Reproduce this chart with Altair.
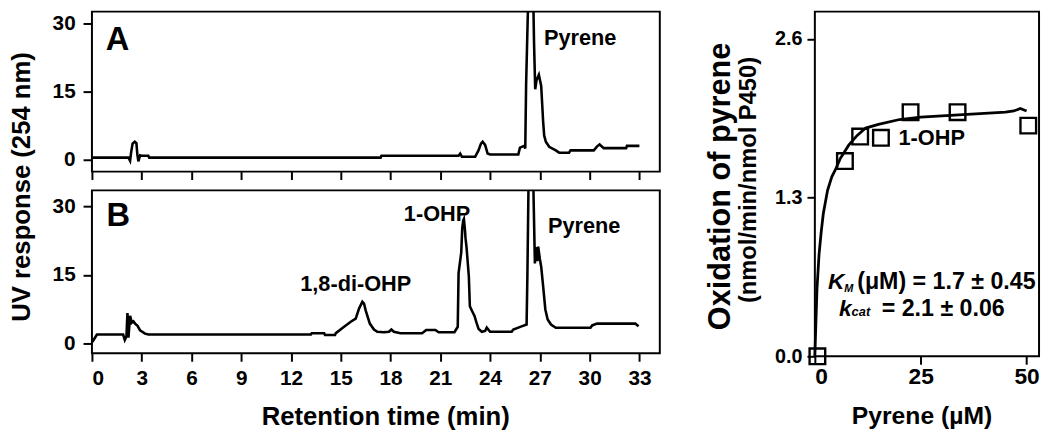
import altair as alt
import pandas as pd

FONT = "Liberation Sans"

# ---------------- data: chromatogram A (no enzyme) ----------------
time_a = [0, 2.2, 2.3, 2.36, 2.45, 2.58, 2.68, 2.74, 2.8, 2.9,
          3.0, 3.4, 3.45, 17.4, 17.45,
          22.1, 22.2, 22.3, 23.1, 23.3, 23.45, 23.55, 23.7, 23.85, 24.0,
          25.7, 25.8, 26.05, 26.12, 26.17, 26.3, 26.47, 26.6, 26.65, 26.72,
          26.8, 26.94, 27.08, 27.2, 27.26, 27.36, 27.56, 27.96, 28.16, 28.76,
          28.85, 30.25, 30.45, 30.6, 30.85, 32.2, 32.25, 33.0]
resp_a = [0.4, 0.4, -0.3, 1.5, 3.5, 3.9, 3.6, 1.0, -0.4, 0.9,
          0.8, 0.8, 0.4, 0.4, 0.8,
          0.8, 1.3, 0.6, 0.6, 2.0, 3.5, 3.9, 3.2, 1.3, 1.1,
          1.1, 2.6, 3.0, 2.4, 16.3, 36, 200, 36, 25.6, 15.5,
          17.5, 18.7, 16.2, 8.2, 5.3, 3.9, 2.8, 2.0, 1.5, 1.5,
          2.0, 2.0, 2.9, 3.3, 2.5, 2.5, 3.0, 3.0]

# ---------------- data: chromatogram B (with enzyme) ----------------
time_b = [0, 0.1, 0.3, 1.88, 1.98, 2.08, 2.14, 2.2, 2.3, 2.4,
          2.5, 2.6, 2.75, 2.9, 3.2, 3.4, 13.2, 13.25, 14.0, 14.05,
          14.65, 14.7, 15.2, 15.6, 15.9, 16.1, 16.3, 16.4, 16.5, 16.75,
          17.0, 17.2, 17.6, 17.9, 18.05, 18.2, 18.6, 19.9, 20.15, 20.7,
          20.9, 21.85, 22.05, 22.1, 22.26, 22.32, 22.38, 22.42, 22.48, 22.52,
          22.58, 22.72, 22.78, 22.92, 23.06, 23.18, 23.31, 23.5, 23.7, 23.8,
          24.0, 25.3, 25.4, 25.9, 26.2, 26.25, 26.32, 26.47, 26.6, 26.7,
          26.77, 26.85, 26.9, 27.0, 27.08, 27.2, 27.33, 27.47, 27.67, 27.96,
          30.05, 30.15, 30.45, 32.75, 32.95]
resp_b = [0.2, 0.7, 1.9, 1.9, 0.7, 1.5, 6.6, 1.2, 6.0, 4.5,
          4.8, 4.3, 3.8, 2.8, 2.1, 1.9, 1.9, 2.2, 2.2, 1.8,
          1.8, 2.2, 3.6, 4.7, 5.4, 7.6, 9.1, 8.7, 7.2, 4.3,
          3.0, 2.5, 2.4, 2.5, 3.0, 2.5, 2.2, 2.2, 2.9, 2.9,
          2.4, 2.4, 3.6, 15.4, 19.9, 25.2, 27.0, 27.3, 25.1, 23.0,
          21.1, 14.6, 8.1, 7.0, 6.0, 4.5, 3.1, 2.5, 2.7, 3.4,
          2.5, 2.5, 3.0, 3.7, 4.1, 15.3, 36, 200, 36, 17.5,
          21.1, 18.0, 21.2, 18.5, 16.8, 12.4, 7.4, 5.2, 4.1, 3.4,
          3.4, 3.9, 4.3, 4.3, 3.7]

assert len(time_a) == len(resp_a) and len(time_b) == len(resp_b)

time_ticks = list(range(0, 34, 3))
uv_ticks = [0, 15, 30]

letter_a, letter_a_t, letter_a_v = ["A"], [1.54], [26.3]
letter_b, letter_b_t, letter_b_v = ["B"], [1.59], [27.8]
peaks_a, peaks_a_t, peaks_a_v = ["Pyrene"], [29.43], [26.7]
peaks_b = ["1,8-di-OHP", "1-OHP", "Pyrene"]
peaks_b_t = [15.9, 20.8, 29.67]
peaks_b_v = [12.9, 28.4, 25.8]

# ---------------- data: kinetics ----------------
conc = [0.6, 7.1, 10.7, 15.6, 22.6, 33.7, 50.4]
rate = [0.0, 1.60, 1.80, 1.79, 2.0, 2.0, 1.89]
fit_conc = [0, 0.25, 0.5, 1, 1.5, 2, 3, 4, 5, 6, 8, 10, 12, 15, 20, 25, 30,
            35, 40, 45, 47, 48.5, 50]
fit_rate = [0, 0.28, 0.55, 0.84, 1.02, 1.17, 1.36, 1.47, 1.54, 1.62, 1.73,
            1.81, 1.87, 1.90, 1.94, 1.96, 1.97, 1.98, 1.99, 2.0, 2.01, 2.03, 2.01]
rate_ticks = [0, 1.3, 2.6]
conc_ticks = [0, 25, 50]

product_label, product_c, product_r = ["1-OHP"], [27.6], [1.79]

# ---------------- chromatogram panels ----------------
X_DOM = [0, 34.23]


def chrom_panel(times, resp, ydom, height, letter, lt, lv, names, nt, nv, bottom):
    df = pd.DataFrame({"t": times, "v": resp, "i": list(range(len(times)))})
    if bottom:
        xaxis = alt.Axis(values=time_ticks, labels=True, title="Retention time (min)",
                         labelFontSize=21, tickSize=8, labelPadding=7,
                         titleFontSize=26, titleX=297, titleY=64, titleBaseline="middle")
        yaxis = alt.Axis(values=uv_ticks, title=None, labelFontSize=21,
                         tickSize=9, labelPadding=8)
    else:
        xaxis = alt.Axis(values=time_ticks, labels=False, title=None, tickSize=8)
        yaxis = alt.Axis(values=uv_ticks, title="UV response (254 nm)",
                         labelFontSize=21, tickSize=9, labelPadding=8,
                         titleFontSize=26, titleAngle=270, titleX=-71, titleY=177,
                         titleAlign="center", titleBaseline="middle")
    xs = alt.Scale(domain=X_DOM, nice=False, zero=False)
    ys = alt.Scale(domain=ydom, nice=False, zero=False)
    line = alt.Chart(df).mark_line(color="black", strokeWidth=2.6, clip=True).encode(
        x=alt.X("t:Q", scale=xs, axis=xaxis),
        y=alt.Y("v:Q", scale=ys, axis=yaxis),
        order="i:Q",
    )
    let_df = pd.DataFrame({"t": lt, "v": lv, "s": letter})
    let = alt.Chart(let_df).mark_text(font=FONT, fontWeight="bold", fontSize=33,
                                      align="center", baseline="middle", color="black").encode(
        x="t:Q", y="v:Q", text="s:N")
    nm_df = pd.DataFrame({"t": nt, "v": nv, "s": names})
    nm = alt.Chart(nm_df).mark_text(font=FONT, fontWeight="bold", fontSize=22,
                                    align="center", baseline="middle", color="black").encode(
        x="t:Q", y="v:Q", text="s:N")
    return alt.layer(line, let, nm).properties(width=575, height=height)


panel_a = chrom_panel(time_a, resp_a, [-2.68, 32.61], 162,
                      letter_a, letter_a_t, letter_a_v,
                      peaks_a, peaks_a_t, peaks_a_v, False)
panel_b = chrom_panel(time_b, resp_b, [-2.23, 33.56], 165,
                      letter_b, letter_b_t, letter_b_v,
                      peaks_b, peaks_b_t, peaks_b_v, True)

left = alt.vconcat(panel_a, panel_b, spacing=19, bounds="flush")

# ---------------- kinetics panel ----------------
cs = alt.Scale(domain=[0, 52.94], nice=False, zero=False)
rs = alt.Scale(domain=[0, 2.824], nice=False, zero=False)

fit_df = pd.DataFrame({"c": fit_conc, "r": fit_rate, "i": list(range(len(fit_conc)))})
pts_df = pd.DataFrame({"c": conc, "r": rate})

fit = alt.Chart(fit_df).mark_line(color="black", strokeWidth=2.8).encode(
    x=alt.X("c:Q", scale=cs, axis=alt.Axis(values=conc_ticks, title="Pyrene (µM)",
                                           labelFontSize=23, tickSize=8, labelPadding=2,
                                           titleFontSize=25, titleX=108, titleY=60,
                                           titleBaseline="middle")),
    y=alt.Y("r:Q", scale=rs, axis=alt.Axis(values=rate_ticks, format=".1f",
                                           title="(nmol/min/nmol P450)",
                                           labelFontSize=20, tickSize=8, labelPadding=5,
                                           titleFontSize=24, titleAngle=270,
                                           titleX=-67, titleY=170, titleAlign="center",
                                           titleBaseline="middle")),
    order="i:Q",
)
pts = alt.Chart(pts_df).mark_point(shape="square", size=250, filled=False,
                                   color="black", strokeWidth=2.4, opacity=1).encode(
    x="c:Q", y="r:Q")

big_title = alt.Chart(pd.DataFrame({"k": [0]})).mark_text(
    text="Oxidation of pyrene", font=FONT, fontWeight="bold", fontSize=31,
    angle=270, align="center", baseline="middle", color="black").encode(
    x=alt.value(-95), y=alt.value(177))

prod_df = pd.DataFrame({"c": product_c, "r": product_r, "s": product_label})
prod = alt.Chart(prod_df).mark_text(font=FONT, fontWeight="bold", fontSize=22,
                                    align="center", baseline="middle", color="black").encode(
    x="c:Q", y="r:Q", text="s:N")

# kinetic constants text (pieces: italic symbols + values)
km_parts = ["K", "M", "(\u03bcM) = 1.7 \u00b1 0.45"]
km_x = [3.12, 6.93, 10.0]
km_y = [0.55, 0.525, 0.55]
kc_parts = ["k", "cat", "=  2.1 \u00b1 0.06"]
kc_x = [5.69, 8.68, 15.79]
kc_y = [0.33, 0.33, 0.33]


def piece(txt, cx, cy, size, style):
    d = pd.DataFrame({"c": [cx], "r": [cy], "s": [txt]})
    return alt.Chart(d).mark_text(font=FONT, fontWeight="bold", fontStyle=style,
                                  fontSize=size, align="left", baseline="alphabetic",
                                  color="black").encode(x="c:Q", y="r:Q", text="s:N")


const_layers = [
    piece(km_parts[0], km_x[0], km_y[0], 23, "italic"),
    piece(km_parts[1], km_x[1], km_y[1], 11, "italic"),
    piece(km_parts[2], km_x[2], km_y[2], 23.5, "normal"),
    piece(kc_parts[0], kc_x[0], kc_y[0], 23, "italic"),
    piece(kc_parts[1], kc_x[1], kc_y[1], 13, "italic"),
    piece(kc_parts[2], kc_x[2], kc_y[2], 23.5, "normal"),
]

right = alt.layer(fit, pts, prod, big_title, *const_layers).properties(width=227, height=349)

chart = alt.hconcat(left, right, spacing=44).properties(
    padding={"left": 0, "top": 0, "right": 0, "bottom": 0}
).configure_view(
    stroke="black", strokeWidth=2
).configure_axis(
    labelFont=FONT, labelFontWeight="bold", labelColor="black",
    titleFont=FONT, titleFontWeight="bold", titleColor="black",
    tickColor="black", tickWidth=2, domain=False, grid=False
)

chart.save("out.html", embed_options={"renderer": "svg", "actions": False})
